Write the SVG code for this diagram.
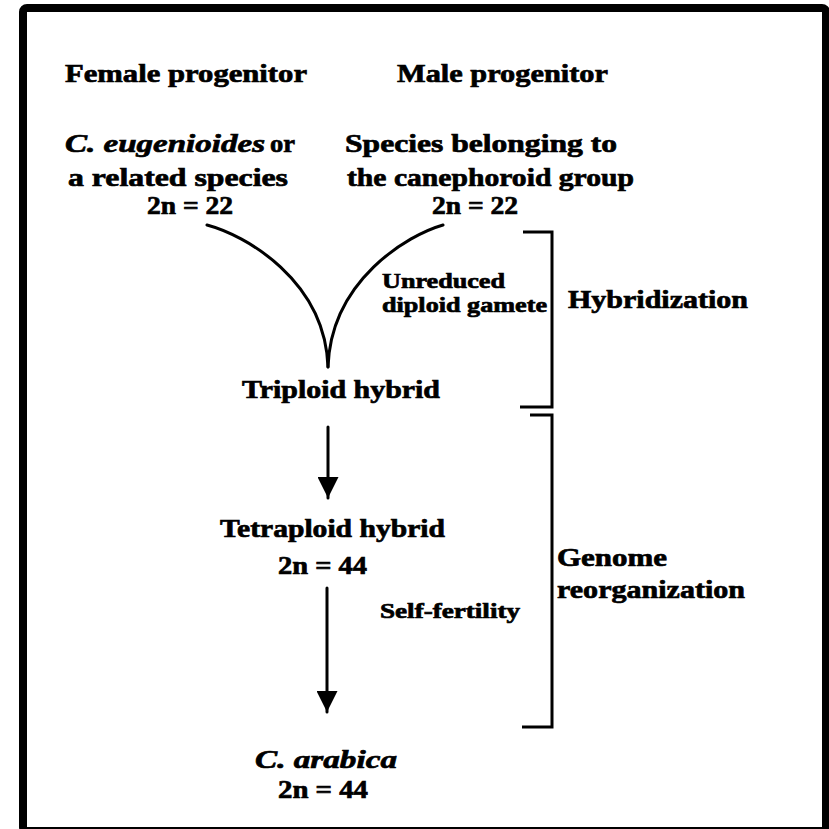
<svg xmlns="http://www.w3.org/2000/svg" width="829" height="829" viewBox="0 0 829 829">
<style>
  text { font-family: "Liberation Serif", "Times New Roman", serif; font-weight: bold; fill: #000; stroke: #000; stroke-width: 0.7; }
  .lg { font-size: 26px; }
  .sm { font-size: 22px; }
  .it { font-style: italic; }
  .ln { fill: none; stroke: #000; stroke-width: 3; stroke-linecap: round; }
  .br { fill: none; stroke: #000; stroke-width: 3; }
</style>
<defs>
  <marker id="ah" viewBox="0 0 10 10" refX="10" refY="5" markerWidth="7" markerHeight="7" markerUnits="strokeWidth" orient="auto">
    <path d="M0,0 L10,5 L0,10 Z" fill="#000"/>
  </marker>
</defs>
<rect x="0" y="0" width="829" height="829" fill="#fff"/>
<rect x="23" y="8" width="803" height="823" rx="4" fill="none" stroke="#000" stroke-width="8"/>

<g id="header-female"><text class="lg" x="65" y="82" textLength="242" lengthAdjust="spacingAndGlyphs">Female progenitor</text></g>
<g id="header-male"><text class="lg" x="397" y="82" textLength="211" lengthAdjust="spacingAndGlyphs">Male progenitor</text></g>

<g id="female">
  <text class="lg it" x="65" y="152" textLength="200" lengthAdjust="spacingAndGlyphs">C. eugenioides</text>
  <text class="lg" x="270" y="152" textLength="25" lengthAdjust="spacingAndGlyphs">or</text>
  <text class="lg" x="68" y="186" textLength="220" lengthAdjust="spacingAndGlyphs">a related species</text>
  <text class="lg" x="147" y="214" textLength="86" lengthAdjust="spacingAndGlyphs">2n = 22</text>
</g>

<g id="male">
  <text class="lg" x="345" y="152" textLength="272" lengthAdjust="spacingAndGlyphs">Species belonging to</text>
  <text class="lg" x="347" y="186" textLength="287" lengthAdjust="spacingAndGlyphs">the canephoroid group</text>
  <text class="lg" x="432" y="214" textLength="86" lengthAdjust="spacingAndGlyphs">2n = 22</text>
</g>

<g id="gamete-label">
  <text class="sm" x="382" y="288" textLength="123" lengthAdjust="spacingAndGlyphs">Unreduced</text>
  <text class="sm" x="382" y="312" textLength="165" lengthAdjust="spacingAndGlyphs">diploid gamete</text>
</g>

<g id="triploid"><text class="lg" x="242" y="398" textLength="198" lengthAdjust="spacingAndGlyphs">Triploid hybrid</text></g>

<g id="tetraploid">
  <text class="lg" x="220" y="537" textLength="225" lengthAdjust="spacingAndGlyphs">Tetraploid hybrid</text>
  <text class="lg" x="278" y="574" textLength="89" lengthAdjust="spacingAndGlyphs">2n = 44</text>
</g>

<g id="self-fertility-label"><text class="sm" x="380" y="618" textLength="140" lengthAdjust="spacingAndGlyphs">Self-fertility</text></g>

<g id="arabica">
  <text class="lg it" x="255" y="768" textLength="142" lengthAdjust="spacingAndGlyphs">C. arabica</text>
  <text class="lg" x="278" y="798" textLength="90" lengthAdjust="spacingAndGlyphs">2n = 44</text>
</g>

<g id="hybridization">
  <path class="br" d="M523,232 H552 V407 H520"/>
  <text class="lg" x="568" y="308" textLength="180" lengthAdjust="spacingAndGlyphs">Hybridization</text>
</g>

<g id="genome-reorganization">
  <path class="br" d="M530,415 H552 V727 H522"/>
  <text class="lg" x="557" y="566" textLength="110" lengthAdjust="spacingAndGlyphs">Genome</text>
  <text class="lg" x="557" y="598" textLength="188" lengthAdjust="spacingAndGlyphs">reorganization</text>
</g>

<g id="connectors">
  <path class="ln" d="M207,225 C245,235 325,280 328,367"/>
  <path class="ln" d="M443,225 C408,235 331,280 328,367"/>
  <path class="ln" d="M328,427 V498" marker-end="url(#ah)"/>
  <path class="ln" d="M327,588 V712" marker-end="url(#ah)"/>
</g>
</svg>
